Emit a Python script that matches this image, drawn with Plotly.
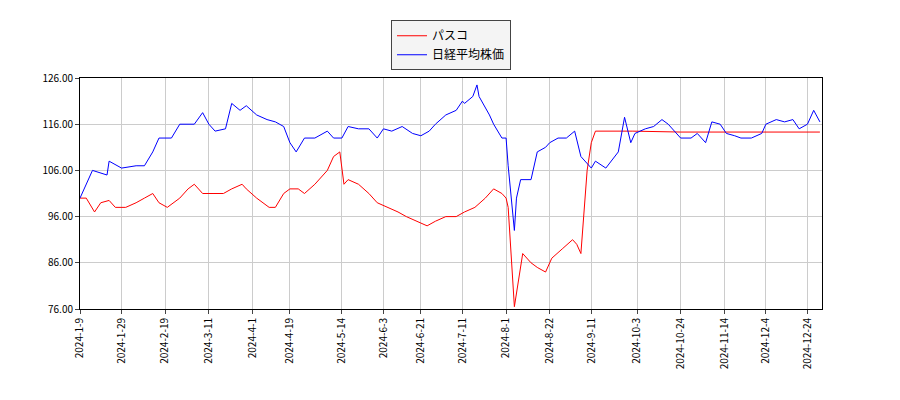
import plotly.graph_objects as go

nk_dates = ["2024-01-09","2024-01-15","2024-01-22","2024-01-23","2024-01-29","2024-02-05","2024-02-09","2024-02-13","2024-02-16","2024-02-22","2024-02-26","2024-03-04","2024-03-08","2024-03-11","2024-03-14","2024-03-19","2024-03-22","2024-03-26","2024-03-29","2024-04-03","2024-04-08","2024-04-12","2024-04-16","2024-04-19","2024-04-22","2024-04-26","2024-05-01","2024-05-07","2024-05-10","2024-05-14","2024-05-17","2024-05-22","2024-05-27","2024-05-31","2024-06-03","2024-06-07","2024-06-12","2024-06-17","2024-06-21","2024-06-25","2024-06-28","2024-07-03","2024-07-08","2024-07-11","2024-07-12","2024-07-16","2024-07-18","2024-07-19","2024-07-24","2024-07-26","2024-07-30","2024-08-01","2024-08-02","2024-08-05","2024-08-06","2024-08-08","2024-08-13","2024-08-16","2024-08-20","2024-08-22","2024-08-26","2024-08-30","2024-09-03","2024-09-06","2024-09-11","2024-09-13","2024-09-18","2024-09-24","2024-09-27","2024-09-30","2024-10-02","2024-10-07","2024-10-11","2024-10-15","2024-10-18","2024-10-22","2024-10-24","2024-10-29","2024-11-01","2024-11-05","2024-11-08","2024-11-12","2024-11-15","2024-11-19","2024-11-22","2024-11-27","2024-12-02","2024-12-04","2024-12-09","2024-12-13","2024-12-17","2024-12-20","2024-12-24","2024-12-27","2024-12-30"]
nk_vals = [100,106,105,108,106.5,107,107,110,113,113,116,116,118.5,116,114.5,115,120.5,119,120,118,117,116.5,115.5,112,110,113,113,114.5,113,113,115.5,115,115,113,115,114.5,115.5,114,113.5,114.5,116,118,119,121,120.5,122,124.5,122,118,116,113,113,107,93,100,104,104,110,111,112,113,113,114.5,109,106.5,108,106.5,110,117.5,112,114,115,115.5,117,116,114,113,113,114,112,116.5,116,114,113.5,113,113,114,116,117,116.5,117,115,116,119,116.5]

ps_dates = ["2024-01-09","2024-01-12","2024-01-16","2024-01-19","2024-01-23","2024-01-26","2024-01-31","2024-02-05","2024-02-09","2024-02-13","2024-02-16","2024-02-20","2024-02-26","2024-03-01","2024-03-04","2024-03-08","2024-03-13","2024-03-18","2024-03-22","2024-03-27","2024-03-29","2024-04-03","2024-04-09","2024-04-12","2024-04-16","2024-04-19","2024-04-23","2024-04-26","2024-05-01","2024-05-07","2024-05-10","2024-05-13","2024-05-15","2024-05-17","2024-05-22","2024-05-27","2024-05-31","2024-06-05","2024-06-10","2024-06-14","2024-06-19","2024-06-24","2024-06-28","2024-07-03","2024-07-08","2024-07-12","2024-07-17","2024-07-22","2024-07-26","2024-07-30","2024-08-01","2024-08-02","2024-08-05","2024-08-07","2024-08-09","2024-08-13","2024-08-16","2024-08-20","2024-08-23","2024-08-28","2024-09-02","2024-09-04","2024-09-06","2024-09-09","2024-09-11","2024-09-13","2024-10-01","2024-10-24","2024-11-15","2024-12-05","2024-12-30"]
ps_vals = [100,100,97,99,99.5,98,98,99,100,101,99,98,100,102,103,101,101,101,102,103,102,100,98,98,101,102,102,101,103,106,109,110,103,104,103,101,99,98,97,96,95,94,95,96,96,97,98,100,102,101,100,98,76.5,82,88,86,85,84,87,89,91,90,88,106,112,114.5,114.5,114.3,114.3,114.3,114.3]

tick_vals = ["2024-01-09","2024-01-29","2024-02-19","2024-03-11","2024-04-01","2024-04-19","2024-05-14","2024-06-03","2024-06-21","2024-07-11","2024-08-01","2024-08-22","2024-09-11","2024-10-03","2024-10-24","2024-11-14","2024-12-04","2024-12-24"]
tick_text = ["2024-1-9","2024-1-29","2024-2-19","2024-3-11","2024-4-1","2024-4-19","2024-5-14","2024-6-3","2024-6-21","2024-7-11","2024-8-1","2024-8-22","2024-9-11","2024-10-3","2024-10-24","2024-11-14","2024-12-4","2024-12-24"]

fig = go.Figure()
fig.add_trace(go.Scatter(x=ps_dates, y=ps_vals, mode="lines", name="パスコ", line=dict(color="red", width=1)))
fig.add_trace(go.Scatter(x=nk_dates, y=nk_vals, mode="lines", name="日経平均株価", line=dict(color="blue", width=1)))
fig.update_layout(
    width=900, height=400, margin=dict(l=72, r=86, t=62, b=99),
    paper_bgcolor="white", plot_bgcolor="white",
    font=dict(family="Noto Sans CJK JP", size=10, color="black"),
    legend=dict(x=0.5, xanchor="center", y=1.25, yanchor="top", bordercolor="#444", borderwidth=1,
                bgcolor="#f4f4f4", font=dict(size=12)),
    showlegend=True,
)
fig.update_xaxes(range=["2024-01-09","2024-12-31"], tickvals=tick_vals, ticktext=tick_text, tickangle=-90,
                 showgrid=True, gridcolor="#cccccc", showline=True, linecolor="black", mirror=True, ticks="outside", ticklen=4)
fig.update_yaxes(range=[76,126], tickvals=[76,86,96,106,116,126], tickformat=".2f",
                 showgrid=True, gridcolor="#cccccc", showline=True, linecolor="black", mirror=True, ticks="outside", ticklen=4)
fig.write_html("out.html")
